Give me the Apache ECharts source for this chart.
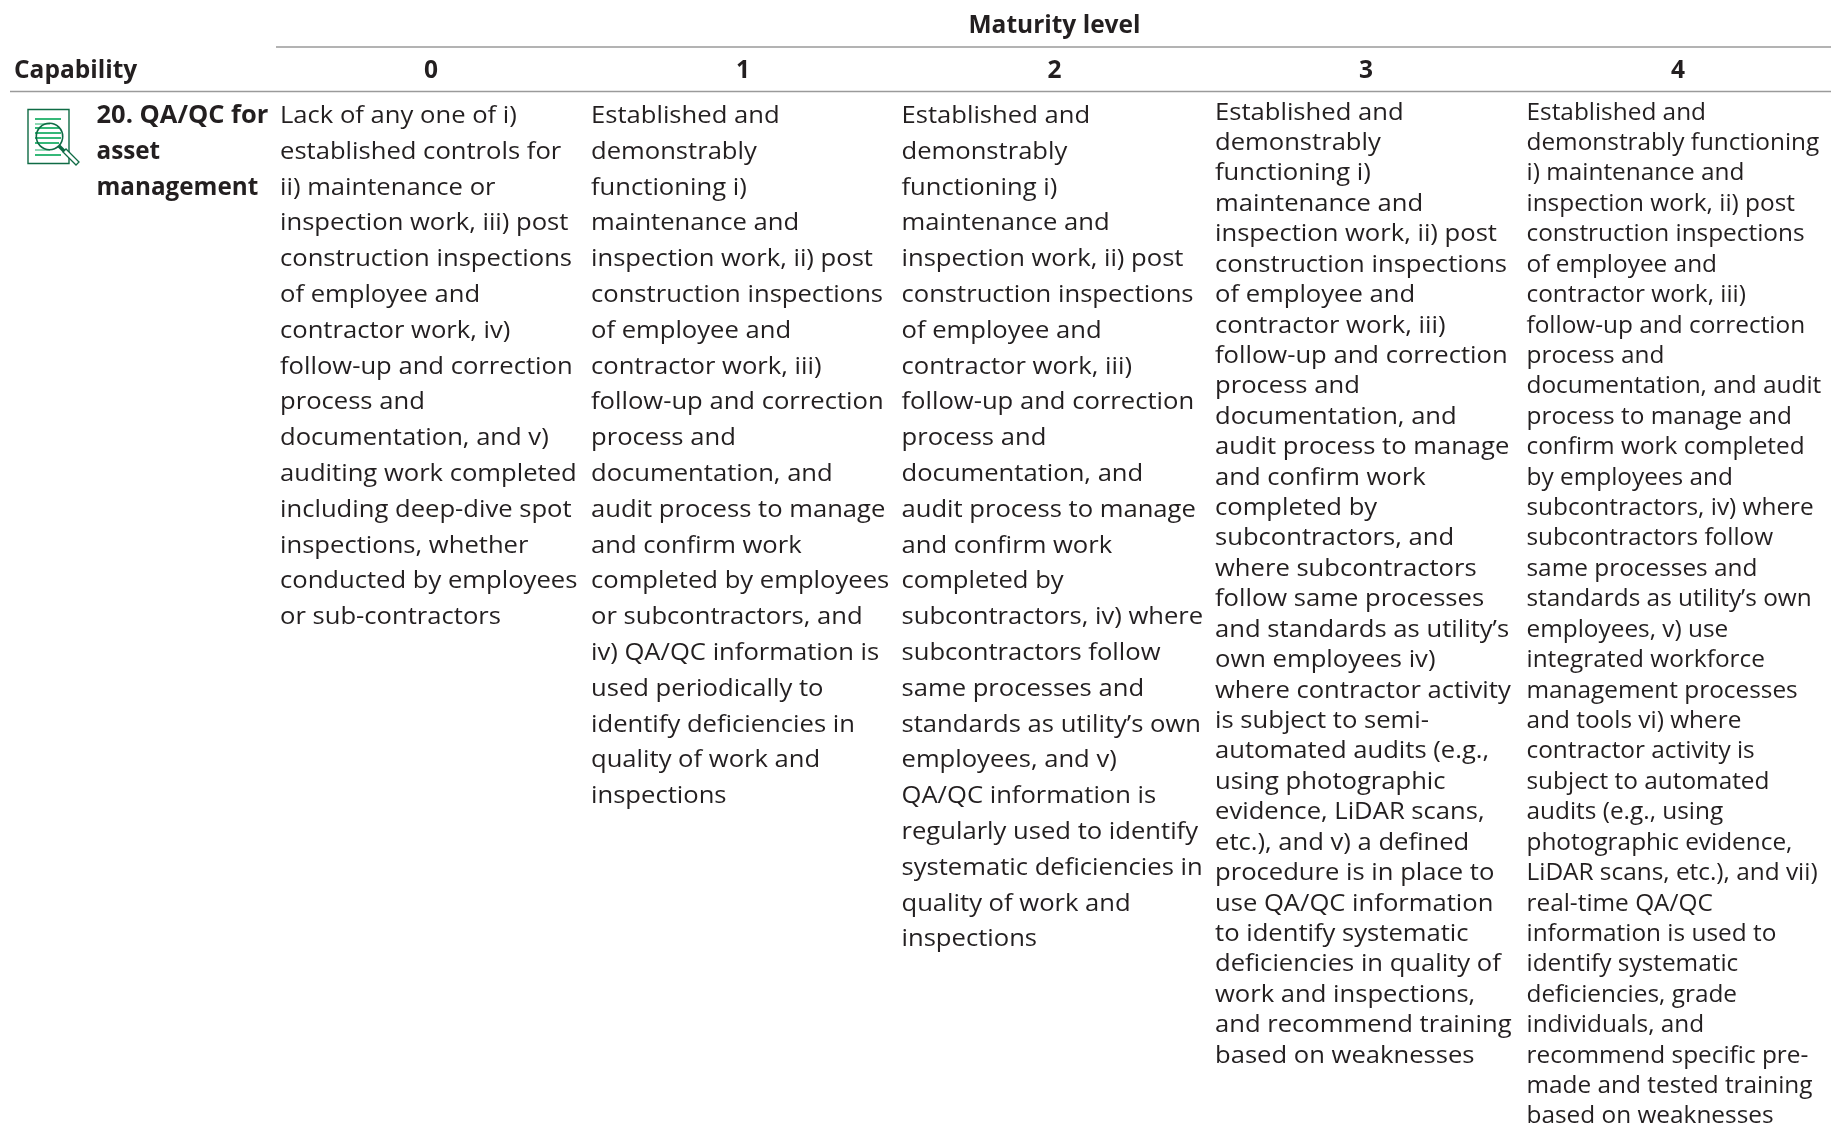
<!DOCTYPE html>
<html>
<head>
<meta charset="utf-8">
<title>QA/QC maturity</title>
<script src="https://cdn.jsdelivr.net/npm/echarts@6/dist/echarts.min.js"></script>
<style>
  html, body { margin: 0; padding: 0; background: #fff; }
  #main { width: 1831px; height: 1127px; }
</style>
</head>
<body>
<div id="main"></div>
<script>
// table content
const spanTitle = "Maturity level";
const rowHeader = "Capability";
const levels = ["0", "1", "2", "3", "4"];
const capability = ["20. QA/QC for", "asset", "management"];

const level0 = [
  "Lack of any one of i)", "established controls for", "ii) maintenance or",
  "inspection work, iii) post", "construction inspections", "of employee and",
  "contractor work, iv)", "follow-up and correction", "process and",
  "documentation, and v)", "auditing work completed", "including deep-dive spot",
  "inspections, whether", "conducted by employees", "or sub-contractors"
];
const level1 = [
  "Established and", "demonstrably", "functioning i)", "maintenance and",
  "inspection work, ii) post", "construction inspections", "of employee and",
  "contractor work, iii)", "follow-up and correction", "process and",
  "documentation, and", "audit process to manage", "and confirm work",
  "completed by employees", "or subcontractors, and", "iv) QA/QC information is",
  "used periodically to", "identify deficiencies in", "quality of work and", "inspections"
];
const level2 = [
  "Established and", "demonstrably", "functioning i)", "maintenance and",
  "inspection work, ii) post", "construction inspections", "of employee and",
  "contractor work, iii)", "follow-up and correction", "process and",
  "documentation, and", "audit process to manage", "and confirm work",
  "completed by", "subcontractors, iv) where", "subcontractors follow",
  "same processes and", "standards as utility\u2019s own", "employees, and v)",
  "QA/QC information is", "regularly used to identify", "systematic deficiencies in",
  "quality of work and", "inspections"
];
const level3 = [
  "Established and", "demonstrably", "functioning i)", "maintenance and",
  "inspection work, ii) post", "construction inspections", "of employee and",
  "contractor work, iii)", "follow-up and correction", "process and",
  "documentation, and", "audit process to manage", "and confirm work",
  "completed by", "subcontractors, and", "where subcontractors",
  "follow same processes", "and standards as utility\u2019s", "own employees iv)",
  "where contractor activity", "is subject to semi-", "automated audits (e.g.,",
  "using photographic", "evidence, LiDAR scans,", "etc.), and v) a defined",
  "procedure is in place to", "use QA/QC information", "to identify systematic",
  "deficiencies in quality of", "work and inspections,", "and recommend training",
  "based on weaknesses"
];
const level4 = [
  "Established and", "demonstrably functioning", "i) maintenance and",
  "inspection work, ii) post", "construction inspections", "of employee and",
  "contractor work, iii)", "follow-up and correction", "process and",
  "documentation, and audit", "process to manage and", "confirm work completed",
  "by employees and", "subcontractors, iv) where", "subcontractors follow",
  "same processes and", "standards as utility\u2019s own", "employees, v) use",
  "integrated workforce", "management processes", "and tools vi) where",
  "contractor activity is", "subject to automated", "audits (e.g., using",
  "photographic evidence,", "LiDAR scans, etc.), and vii)", "real-time QA/QC",
  "information is used to", "identify systematic", "deficiencies, grade",
  "individuals, and", "recommend specific pre-", "made and tested training",
  "based on weaknesses"
];
const levelLines = [level0, level1, level2, level3, level4];

// layout of the page
const colLeft = [280, 591, 901.5, 1215, 1526.5];
const colCenter = [431, 743, 1054.5, 1366, 1678];
const firstCenter = [116, 116, 116, 112.6, 112.6];
const lineStep = [35.8, 35.8, 35.8, 30.42, 30.42];
const colSqueeze = [1.045, 1.045, 1.045, 1.045, 0.995];
const capabilitySqueeze = [1.04, 0.99, 0.99];
const headerY = 71;
const titleY = 26;
const bodyFont = "24.5px 'Open Sans'";
const boldFont = "bold 24.5px 'Open Sans'";
const titleSqueeze = 1.0;
const ink = "#231f20";
const ruleColor = "#9a9a9a";
const iconGreen = "#0f6b45";
const stripeGreen = "#35b878";
const stripePale = "#8fd8b4";

let bodyRows = [];
levelLines.forEach((lines, col) => {
  lines.forEach((text, i) => bodyRows.push([col, i, text]));
});

function label(text, x, y, font, align, sx) {
  return {
    type: "text",
    x: x,
    y: y,
    scaleX: sx,
    style: { text: text, font: font, fill: ink, align: align, verticalAlign: "middle" }
  };
}

function buildIcon() {
  let items = [];
  items.push({ type: "rect", shape: { x: 28, y: 109.5, width: 41, height: 54 },
    style: { fill: "#fff", stroke: iconGreen, lineWidth: 1.4 } });
  [[119, 61, stripeGreen], [124, 50, stripePale], [128, 59, stripeGreen], [133, 61, stripeGreen],
   [138, 61, stripeGreen], [143, 59, stripeGreen], [150, 50, stripePale], [155, 61, stripeGreen]].forEach(s => {
    items.push({ type: "line", shape: { x1: 35, y1: s[0], x2: s[1], y2: s[0] },
      style: { stroke: s[2], lineWidth: 2 } });
  });
  items.push({ type: "circle", shape: { cx: 49.5, cy: 136.5, r: 13.2 },
    style: { fill: "none", stroke: iconGreen, lineWidth: 1.6 } });
  items.push({ type: "polygon", shape: { points: [[63, 152], [66, 149], [79, 162], [76, 165]] },
    style: { fill: "#fff", stroke: iconGreen, lineWidth: 1.3 } });
  items.push({ type: "line", shape: { x1: 59, y1: 146, x2: 64, y2: 151 },
    style: { stroke: iconGreen, lineWidth: 3.5 } });
  return items;
}

const chart = echarts.init(document.getElementById("main"), null, { renderer: "canvas" });

let graphics = [
  { type: "line", shape: { x1: 276, y1: 47, x2: 1831, y2: 47 }, style: { stroke: ruleColor, lineWidth: 1.4 } },
  { type: "line", shape: { x1: 10, y1: 91.5, x2: 1831, y2: 91.5 }, style: { stroke: ruleColor, lineWidth: 1.4 } },
  label(spanTitle, 1054.5, titleY, boldFont, "center", titleSqueeze),
  label(rowHeader, 14, headerY, boldFont, "left", titleSqueeze)
];
levels.forEach((lv, i) => graphics.push(label(lv, colCenter[i], headerY, boldFont, "center", titleSqueeze)));
capability.forEach((t, i) => graphics.push(label(t, 96.5, firstCenter[0] + i * lineStep[0], boldFont, "left", capabilitySqueeze[i])));
graphics = graphics.concat(buildIcon());

chart.setOption({
  animation: false,
  backgroundColor: "#fff",
  graphic: graphics,
  series: [
    {
      type: "custom",
      coordinateSystem: "none",
      silent: true,
      data: bodyRows,
      renderItem: (params, api) => {
        const col = api.value(0);
        const line = api.value(1);
        return label(bodyRows[params.dataIndex][2],
          colLeft[col], firstCenter[col] + line * lineStep[col], bodyFont, "left", colSqueeze[col]);
      }
    }
  ]
});
</script>
</body>
</html>
